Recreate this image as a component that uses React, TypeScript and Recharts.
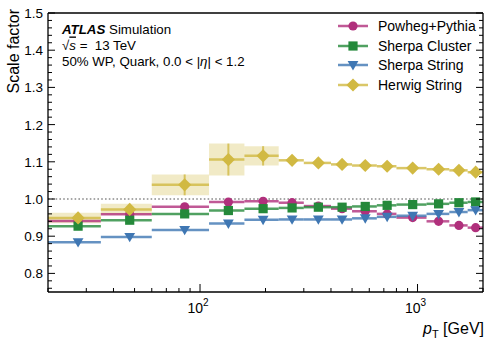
import { ScatterChart, Scatter, XAxis, YAxis, ErrorBar, ReferenceArea, ReferenceLine, Legend } from 'recharts'

// pT bins (GeV)
const PT_LO = [20, 35, 60, 110, 160, 230, 300, 400, 500, 650, 800, 1100, 1400, 1700]
const PT_HI = [35, 60, 110, 160, 230, 300, 400, 500, 650, 800, 1100, 1400, 1700, 2000]
const PT_MID = [27.5, 47.5, 85, 135, 195, 265, 350, 450, 575, 725, 950, 1250, 1550, 1850]

// scale factors per generator
const POWHEG = [0.941, 0.959, 0.979, 0.992, 0.994, 0.990, 0.981, 0.974, 0.967, 0.960, 0.950, 0.940, 0.929, 0.923]
const SHERPA_CLUSTER = [0.927, 0.943, 0.960, 0.969, 0.974, 0.976, 0.978, 0.978, 0.980, 0.983, 0.985, 0.987, 0.990, 0.992]
const SHERPA_STRING = [0.884, 0.898, 0.917, 0.934, 0.944, 0.945, 0.945, 0.945, 0.948, 0.952, 0.955, 0.960, 0.965, 0.970]
const HERWIG = [0.949, 0.972, 1.038, 1.106, 1.116, 1.104, 1.097, 1.093, 1.090, 1.088, 1.083, 1.080, 1.077, 1.072]
const HERWIG_ERR = [0.014, 0.015, 0.028, 0.043, 0.026, 0, 0, 0, 0, 0, 0, 0, 0, 0]

const X_MAJOR = [100, 1000]
const X_TICKS = [20, 30, 40, 50, 60, 70, 80, 90, 100, 200, 300, 400, 500, 600, 700, 800, 900, 1000, 2000]
const Y_TICKS = Array.from({ length: 38 }, (_, i) => Math.round((0.76 + i * 0.02) * 100) / 100)

const FONT = '"Liberation Sans", Arial, Helvetica, sans-serif'

const COLORS = {
  powheg: '#b0307c',
  cluster: '#24893a',
  string: '#3f77b3',
  herwig: '#d1b942',
}

const toPoints = (vals: number[], err?: number[]) =>
  PT_MID.map((x, i) => ({
    x,
    y: vals[i],
    xerr: [x - PT_LO[i], PT_HI[i] - x],
    yerr: err ? err[i] : 0,
  }))

const circle = (c: string) => (p: any) => <circle cx={p.cx} cy={p.cy} r={4.6} fill={c} />
const square = (c: string) => (p: any) => <rect x={p.cx - 4.6} y={p.cy - 4.6} width={9.2} height={9.2} fill={c} />
const triDown = (c: string) => (p: any) => (
  <polygon points={`${p.cx - 5.4},${p.cy - 4} ${p.cx + 5.4},${p.cy - 4} ${p.cx},${p.cy + 5.4}`} fill={c} />
)
const diamond = (c: string) => (p: any) => (
  <polygon points={`${p.cx},${p.cy - 6.6} ${p.cx + 6.6},${p.cy} ${p.cx},${p.cy + 6.6} ${p.cx - 6.6},${p.cy}`} fill={c} />
)

const SERIES = [
  { name: 'Powheg+Pythia', color: COLORS.powheg, data: toPoints(POWHEG), shape: circle },
  { name: 'Sherpa Cluster', color: COLORS.cluster, data: toPoints(SHERPA_CLUSTER), shape: square },
  { name: 'Sherpa String', color: COLORS.string, data: toPoints(SHERPA_STRING), shape: triDown },
  { name: 'Herwig String', color: COLORS.herwig, data: toPoints(HERWIG, HERWIG_ERR), shape: diamond },
]

const isMajorY = (v: number) => Math.round(v * 100) % 10 === 0

// inward ticks, ATLAS style
const BottomTick = ({ x, y, payload }: any) => {
  const major = X_MAJOR.includes(payload.value)
  return (
    <g>
      <line x1={x} x2={x} y1={y} y2={y - (major ? 8 : 4)} stroke="#000" />
      {major && (
        <text x={x - 2} y={y + 21} textAnchor="middle" fontSize={14} fontFamily={FONT} fill="#000">
          10<tspan dy={-7} fontSize={10}>{Math.round(Math.log10(payload.value))}</tspan>
        </text>
      )}
    </g>
  )
}
const TopTick = ({ x, y, payload }: any) => {
  const major = X_MAJOR.includes(payload.value)
  return <line x1={x} x2={x} y1={y} y2={y + (major ? 8 : 4)} stroke="#000" />
}
const LeftTick = ({ x, y, payload }: any) => {
  const major = isMajorY(payload.value)
  return (
    <g>
      <line x1={x} x2={x + (major ? 7 : 4)} y1={y} y2={y} stroke="#000" />
      {major && (
        <text x={x - 5} y={y + 5} textAnchor="end" fontSize={13.5} fontFamily={FONT} fill="#000">
          {payload.value.toFixed(1)}
        </text>
      )}
    </g>
  )
}
const RightTick = ({ x, y, payload }: any) => {
  const major = isMajorY(payload.value)
  return <line x1={x} x2={x - (major ? 7 : 4)} y1={y} y2={y} stroke="#000" />
}

const renderLegend = () => (
  <div style={{ fontFamily: FONT, fontSize: 14 }}>
    {SERIES.map(s => (
      <div key={s.name} style={{ display: 'flex', alignItems: 'center', height: 19.8 }}>
        <svg width={30} height={16} style={{ marginRight: 10 }}>
          <line x1={0} x2={30} y1={8} y2={8} stroke={s.color} strokeWidth={2.5} strokeOpacity={0.8} />
          {s.shape(s.color)({ cx: 15, cy: 8 })}
        </svg>
        <span>{s.name}</span>
      </div>
    ))}
  </div>
)

export default function App() {
  return (
    <div style={{ position: 'absolute', left: 0, top: 0, width: 488, height: 342, background: '#fff' }}>
      <ScatterChart width={488} height={342} margin={{ top: 12, right: 4, bottom: 20, left: 0 }}>
        <XAxis
          dataKey="x"
          type="number"
          scale="log"
          domain={[20, 2000]}
          allowDataOverflow
          ticks={X_TICKS}
          interval={0}
          tickLine={false}
          tickSize={0}
          tickMargin={0}
          tick={BottomTick}
          axisLine={{ stroke: '#000', strokeWidth: 1.3 }}
          height={30}
        />
        <XAxis
          xAxisId="top"
          orientation="top"
          type="number"
          scale="log"
          domain={[20, 2000]}
          allowDataOverflow
          ticks={X_TICKS}
          interval={0}
          tickLine={false}
          tickSize={0}
          tickMargin={0}
          tick={TopTick}
          axisLine={{ stroke: '#000', strokeWidth: 1.3 }}
          height={1}
        />
        <YAxis
          dataKey="y"
          type="number"
          domain={[0.75, 1.5]}
          allowDataOverflow
          ticks={Y_TICKS}
          interval={0}
          tickLine={false}
          tickSize={0}
          tickMargin={0}
          tick={LeftTick}
          axisLine={{ stroke: '#000', strokeWidth: 1.3 }}
          width={48}
        />
        <YAxis
          yAxisId="right"
          orientation="right"
          type="number"
          domain={[0.75, 1.5]}
          allowDataOverflow
          ticks={Y_TICKS}
          interval={0}
          tickLine={false}
          tickSize={0}
          tickMargin={0}
          tick={RightTick}
          axisLine={{ stroke: '#000', strokeWidth: 1.3 }}
          width={1}
        />
        {HERWIG.map((v, i) =>
          HERWIG_ERR[i] > 0 ? (
            <ReferenceArea
              key={`box-${i}`}
              x1={PT_LO[i]}
              x2={PT_HI[i]}
              y1={v - HERWIG_ERR[i]}
              y2={v + HERWIG_ERR[i]}
              fill={COLORS.herwig}
              fillOpacity={0.3}
              stroke="none"
            />
          ) : null
        )}
        <ReferenceLine y={1} stroke="#8a8a8a" strokeWidth={1.6} strokeDasharray="1.6 2.2" />
        {SERIES.map(s => (
          <Scatter key={s.name} name={s.name} data={s.data} shape={s.shape(s.color)} isAnimationActive={false}>
            <ErrorBar dataKey="xerr" direction="x" width={0} stroke={s.color} strokeWidth={2.5} strokeOpacity={0.8} />
            <ErrorBar dataKey="yerr" direction="y" width={0} stroke={s.color} strokeWidth={2} strokeOpacity={0.8} />
          </Scatter>
        ))}
        <Legend
          layout="vertical"
          align="center"
          verticalAlign="middle"
          content={renderLegend}
          wrapperStyle={{ left: 338, top: 16, width: 150, height: 80 }}
        />
      </ScatterChart>
      <svg
        width={488}
        height={342}
        style={{ position: 'absolute', left: 0, top: 0, pointerEvents: 'none' }}
        fontFamily={FONT}
      >
        <text x={62} y={33.5} fontSize={13.3} fill="#000">
          <tspan fontWeight="bold" fontStyle="italic">ATLAS</tspan>
          <tspan> Simulation</tspan>
        </text>
        <text x={62} y={49.5} fontSize={13.3} fill="#000">
          √<tspan fontStyle="italic" textDecoration="overline">s</tspan>{' =\u00a0 13 TeV'}
        </text>
        <text x={62} y={65.5} fontSize={13.3} fill="#000">
          50% WP, Quark, 0.0 &lt; |<tspan fontStyle="italic">η</tspan>| &lt; 1.2
        </text>
        <text transform="translate(19,9) rotate(-90)" textAnchor="end" fontSize={16} fill="#000">
          Scale factor
        </text>
        <text x={484} y={334} textAnchor="end" fontSize={16} fill="#000">
          <tspan fontStyle="italic">p</tspan>
          <tspan dy={4} fontSize={11}>T</tspan>
          <tspan dy={-4}> [GeV]</tspan>
        </text>
      </svg>
    </div>
  )
}
